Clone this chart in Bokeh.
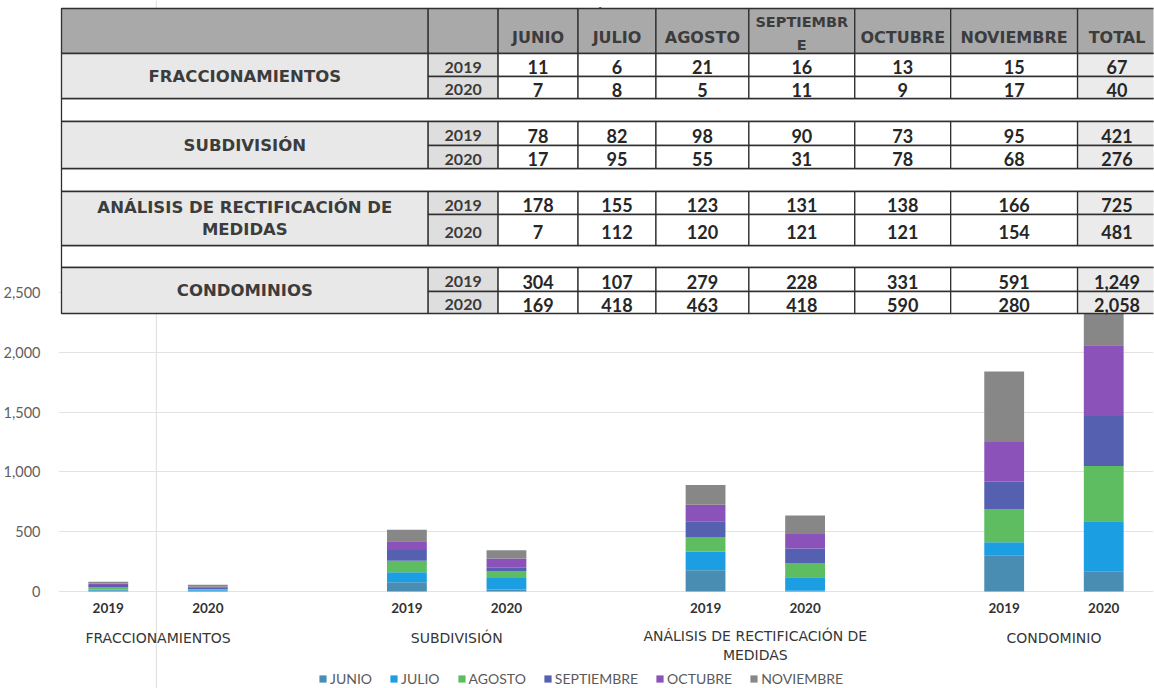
from bokeh.plotting import figure
from bokeh.models import (FactorRange, Range1d, ColumnDataSource, Legend, LegendItem,
                          FixedTicker, NumeralTickFormatter, LinearScale)
from bokeh.core.properties import value
from bokeh.embed import file_html
from bokeh.resources import INLINE

# ---------------- data ----------------
title = "Trámites"
groups = ["FRACCIONAMIENTOS", "SUBDIVISIÓN", "ANÁLISIS DE RECTIFICACIÓN DE MEDIDAS", "CONDOMINIO"]
group_labels = ["FRACCIONAMIENTOS", "SUBDIVISIÓN", "ANÁLISIS DE RECTIFICACIÓN DE\nMEDIDAS", "CONDOMINIO"]
table_labels = ["FRACCIONAMIENTOS", "SUBDIVISIÓN", "ANÁLISIS DE RECTIFICACIÓN DE\nMEDIDAS", "CONDOMINIOS"]
years = ["2019", "2020"]
months = ["JUNIO", "JULIO", "AGOSTO", "SEPTIEMBRE", "OCTUBRE", "NOVIEMBRE"]
header_labels = ["JUNIO", "JULIO", "AGOSTO", "SEPTIEMBR\nE", "OCTUBRE", "NOVIEMBRE", "TOTAL"]

# rows: F2019, F2020, S2019, S2020, A2019, A2020, C2019, C2020
junio = [11, 7, 78, 17, 178, 7, 304, 169]
julio = [6, 8, 82, 95, 155, 112, 107, 418]
agosto = [21, 5, 98, 55, 123, 120, 279, 463]
septiembre = [16, 11, 90, 31, 131, 121, 228, 418]
octubre = [13, 9, 73, 78, 138, 121, 331, 590]
noviembre = [15, 17, 95, 68, 166, 154, 591, 280]
totals = ["67", "40", "421", "276", "725", "481", "1,249", "2,058"]

y_ticks = [0, 500, 1000, 1500, 2000, 2500]
colors = ["#4a8db2", "#1c9fe2", "#5dbd60", "#5561b0", "#8b53b9", "#878787"]

# ---------------- layout constants ----------------
W, H = 1154, 688
LEFT, RIGHT = 57, 1153
Y0_PX, YTOP_PX = 591, 292
GROUP_PAD = 1.0
scale = (Y0_PX - YTOP_PX) / y_ticks[-1]

x_factors = [(g, y) for g in groups for y in years]
x_range = FactorRange(factors=x_factors, factor_padding=0, group_padding=GROUP_PAD, range_padding=0)
y_range = Range1d(-(H - Y0_PX) / scale, Y0_PX / scale)
span = len(x_factors) + (len(groups) - 1) * GROUP_PAD   # synthetic width of the factor range


def sx(px):
    """screen pixel -> synthetic coordinate of the categorical x range (for the table overlay)"""
    return (px - LEFT) * span / (RIGHT - LEFT)


p = figure(width=W, height=H, x_range=x_range, y_range=y_range, x_axis_location=None,
           output_backend="svg", toolbar_location=None,
           min_border_left=LEFT, min_border_right=W - RIGHT, min_border_top=0, min_border_bottom=0)
p.outline_line_color = None
p.background_fill_color = "#ffffff"
p.extra_y_ranges = {"py": Range1d(H, 0)}
p.extra_y_scales = {"py": LinearScale()}

# y axis & grid
p.yaxis.ticker = FixedTicker(ticks=y_ticks)
p.yaxis.formatter = NumeralTickFormatter(format="0,0")
p.yaxis.axis_line_color = None
p.yaxis.major_tick_line_color = None
p.yaxis.minor_tick_line_color = None
p.yaxis.major_label_standoff = 12
p.yaxis.major_label_text_font = "Lato"
p.yaxis.major_label_text_font_size = "14.5px"
p.yaxis.major_label_text_color = "#5f5f5f"
p.ygrid.ticker = FixedTicker(ticks=y_ticks)
p.ygrid.grid_line_color = "#e2e2e2"
p.xgrid.visible = False

# faint scan fold line
p.segment(x0=[sx(155)], x1=[sx(155)], y0=[0], y1=[H], y_range_name="py",
          line_color="#e3e3e3", line_width=1.2)

# stacked bars
src = ColumnDataSource(dict(x=x_factors, JUNIO=junio, JULIO=julio, AGOSTO=agosto,
                            SEPTIEMBRE=septiembre, OCTUBRE=octubre, NOVIEMBRE=noviembre))
bars = p.vbar_stack(months, x="x", width=0.4, fill_color=colors, line_color=None, source=src)

# category labels under bars
yr_src = ColumnDataSource(dict(x=x_factors, t=[f[1] for f in x_factors], y=[607] * len(x_factors)))
p.text(x="x", y="y", text="t", source=yr_src, y_range_name="py",
       text_align="center", text_baseline="middle", text_font=value("Lato"),
       text_font_style="bold", text_font_size="13.5px", text_color="#333333")
GRP_Y, GRP_LINE = 637, 16.5
grp_y = [GRP_Y + (t.count("\n")) * GRP_LINE / 2 for t in group_labels]
grp_src = ColumnDataSource(dict(x=groups, t=group_labels, y=grp_y))
p.text(x="x", y="y", text="t", source=grp_src, y_range_name="py",
       text_align="center", text_baseline="middle", text_font=value("DejaVu Sans"),
       text_font_size="14px", text_color="#363636", text_line_height=GRP_LINE / 14)

# ---------------- table overlay ----------------
col_edges = [60, 427, 497, 577, 655, 748, 854, 950, 1077, 1156]
header_top, header_bot = 8, 53
row_top = [53, 76, 121, 145, 191, 214, 267, 291]
row_bot = [76, 98, 145, 168, 214, 245, 291, 313]
gap_top = [98, 168, 245]
gap_bot = [121, 191, 267]
LINE = "#2f2f2f"
kw = dict(y_range_name="py", line_color=LINE, line_width=1.3)
ce = [sx(c) for c in col_edges]

# title (mostly hidden behind the table, as in the scan)
p.text(x=[sx(590)], y=[0], text=[title], y_range_name="py",
       text_align="center", text_baseline="top", text_font=value("Lato"),
       text_font_size="22px", text_color="#5a5a5a")

# header
p.quad(left=ce[:-1], right=ce[1:], top=[header_top] * 9, bottom=[header_bot] * 9,
       fill_color="#a9a9a9", **kw)
# gap rows
p.quad(left=[ce[0]] * 3, right=[ce[-1]] * 3, top=gap_top, bottom=gap_bot,
       fill_color="#ffffff", **kw)
# label cells (span two rows)
p.quad(left=[ce[0]] * 4, right=[ce[1]] * 4, top=row_top[0::2], bottom=row_bot[1::2],
       fill_color="#e8e8e8", **kw)
# year cells
p.quad(left=[ce[1]] * 8, right=[ce[2]] * 8, top=row_top, bottom=row_bot,
       fill_color="#dedede", **kw)
# value cells
vl, vr, vt, vb = [], [], [], []
for c in range(6):
    for r in range(8):
        vl.append(ce[2 + c]); vr.append(ce[3 + c]); vt.append(row_top[r]); vb.append(row_bot[r])
p.quad(left=vl, right=vr, top=vt, bottom=vb, fill_color="#ffffff", **kw)
# total cells
p.quad(left=[ce[8]] * 8, right=[ce[9]] * 8, top=row_top, bottom=row_bot,
       fill_color="#ebebeb", **kw)

cx = [(ce[i] + ce[i + 1]) / 2 for i in range(len(ce) - 1)]
ry = [(row_top[r] + row_bot[r]) / 2 + 2 for r in range(8)]

# header texts
hdr = [h for h in header_labels if "\n" not in h]
hdr_x = [cx[2 + i] for i, h in enumerate(header_labels) if "\n" not in h]
p.text(x=hdr_x, y=[37] * len(hdr), text=hdr, y_range_name="py",
       text_align="center", text_baseline="middle", text_font=value("DejaVu Sans"),
       text_font_style="bold", text_font_size="16px", text_color="#3c3c3c")
hdr2 = [h for h in header_labels if "\n" in h]
hdr2_x = [cx[2 + i] for i, h in enumerate(header_labels) if "\n" in h]
p.text(x=hdr2_x, y=[33] * len(hdr2), text=hdr2, y_range_name="py",
       text_align="center", text_baseline="middle", text_font=value("DejaVu Sans"),
       text_font_style="bold", text_font_size="14.5px", text_color="#3c3c3c", text_line_height=1.4)

# category labels
lab_y = [(row_top[2 * i] + row_bot[2 * i + 1]) / 2 for i in range(4)]
p.text(x=[cx[0]] * 4, y=lab_y, text=table_labels, y_range_name="py",
       text_align="center", text_baseline="middle", text_font=value("DejaVu Sans"),
       text_font_style="bold", text_font_size="16.5px", text_color="#3c3c3c", text_line_height=1.2)
# year labels
p.text(x=[cx[1]] * 8, y=ry, text=years * 4, y_range_name="py",
       text_align="center", text_baseline="middle", text_font=value("Lato"),
       text_font_style="bold", text_font_size="16px", text_color="#3a3a3a")
# values
series = [junio, julio, agosto, septiembre, octubre, noviembre]
tx, ty, tt = [], [], []
for c, s in enumerate(series):
    for r in range(8):
        tx.append(cx[2 + c]); ty.append(ry[r]); tt.append(str(s[r]))
for r in range(8):
    tx.append(cx[8]); ty.append(ry[r]); tt.append(totals[r])
p.text(x=tx, y=ty, text=tt, y_range_name="py",
       text_align="center", text_baseline="middle", text_font=value("Lato"),
       text_font_style="bold", text_font_size="18px", text_color="#262626")

# legend
legend = Legend(items=[LegendItem(label=m, renderers=[r]) for m, r in zip(months, bars)],
                orientation="horizontal", location=(260, 1),
                background_fill_alpha=0, border_line_color=None,
                glyph_width=9, glyph_height=9, label_standoff=3, spacing=17,
                padding=0, margin=0, label_height=18,
                label_text_font="Lato", label_text_font_size="14px", label_text_color="#5a5a5a")
p.add_layout(legend)

open("out.html", "w").write(file_html(p, INLINE))
